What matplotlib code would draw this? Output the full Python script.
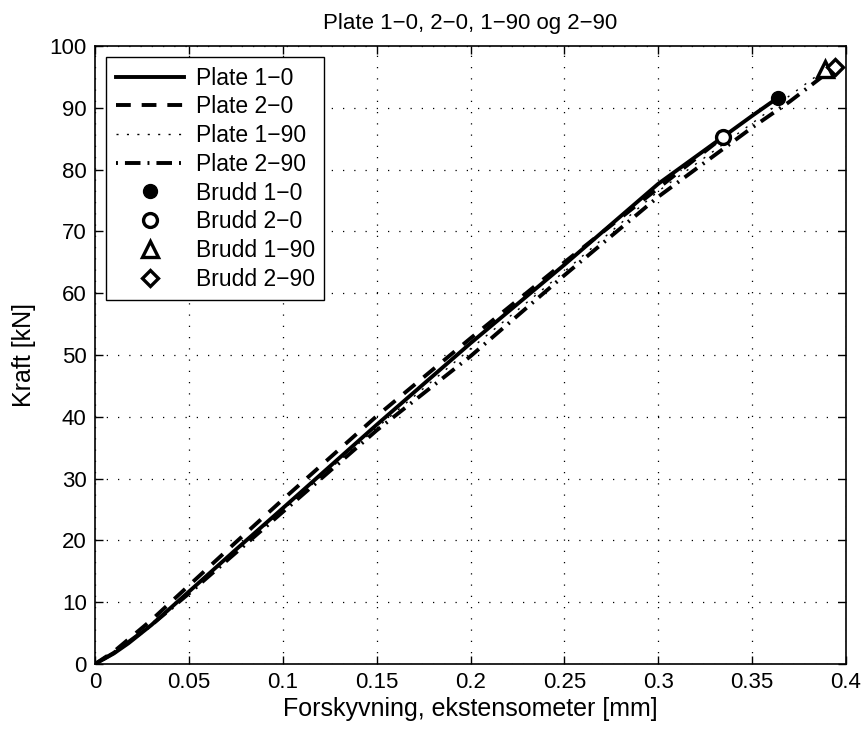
import numpy as np
import matplotlib
matplotlib.use('Agg')
import matplotlib.pyplot as plt

plt.rcParams['font.family'] = ['Liberation Sans', 'DejaVu Sans']

# data
x_10 = [0, 0.01, 0.0178, 0.03, 0.05, 0.075, 0.1, 0.15, 0.2, 0.25, 0.3, 0.35, 0.3636]
y_10 = [0, 1.7, 3.35, 6.3, 11.7, 18.5, 25.2, 38.7, 51.9, 64.6, 77.7, 88.7, 91.6]

x_20 = [0, 0.01, 0.03, 0.05, 0.075, 0.1, 0.15, 0.2, 0.25, 0.3, 0.3343]
y_20 = [0, 2.0, 7.1, 12.7, 19.7, 26.6, 40.1, 52.7, 65.0, 77.0, 85.2]

x_190 = [0, 0.01, 0.03, 0.05, 0.075, 0.1, 0.15, 0.2, 0.25, 0.3, 0.35, 0.389]
y_190 = [0, 1.8, 6.4, 11.6, 18.2, 24.9, 38.2, 51.0, 63.5, 76.5, 87.5, 96.2]

x_290 = [0, 0.01, 0.03, 0.05, 0.075, 0.1, 0.15, 0.2, 0.25, 0.3, 0.35, 0.37, 0.3943]
y_290 = [0, 1.8, 6.3, 11.4, 18.0, 24.6, 37.8, 49.8, 62.9, 75.6, 86.8, 91.0, 96.65]

brudd_x = [0.3636, 0.3343, 0.389, 0.3943]
brudd_y = [91.6, 85.2, 96.2, 96.65]

fig = plt.figure(figsize=(8.67, 7.38), dpi=100)
ax = fig.add_axes([0.1096, 0.1003, 0.8662, 0.8374])

lw = 2.8
ax.plot(x_10, y_10, 'k-', lw=lw, label='Plate 1\u22120')
ax.plot(x_20, y_20, 'k--', lw=lw, dashes=(3.8, 2.8), label='Plate 2\u22120')
ax.plot(x_190, y_190, 'k:', lw=1.0, dashes=(1.5, 6), label='Plate 1\u221290')
ax.plot(x_290, y_290, 'k-.', lw=lw, dashes=(0.5, 1.8, 4, 1.8), label='Plate 2\u221290')

ms = 10
ax.plot(brudd_x[0], brudd_y[0], 'ko', ms=ms, ls='none', label='Brudd 1\u22120')
ax.plot(brudd_x[1], brudd_y[1], 'o', ms=ms, mfc='white', mec='k', mew=2.4, ls='none', label='Brudd 2\u22120')
ax.plot(brudd_x[2], brudd_y[2], '^', ms=ms + 1, mfc='white', mec='k', mew=2.4, ls='none', label='Brudd 1\u221290')
ax.plot(brudd_x[3], brudd_y[3], 'D', ms=ms - 2, mfc='white', mec='k', mew=2.4, ls='none', label='Brudd 2\u221290')

ax.set_xlim(0, 0.4)
ax.set_ylim(0, 100)
ax.set_xticks(np.arange(0, 0.41, 0.05))
ax.set_xticklabels(['0', '0.05', '0.1', '0.15', '0.2', '0.25', '0.3', '0.35', '0.4'])
ax.set_yticks(np.arange(0, 101, 10))
ax.tick_params(direction='in', top=True, right=True, labelsize=16, length=6, width=1, pad=6)
ax.grid(True, color='k', ls=(0, (1, 8)), lw=0.9)
for s in ax.spines.values():
    s.set_linewidth(1.2)

ax.set_xlabel('Forskyvning, ekstensometer [mm]', fontsize=18, labelpad=3)
ax.set_ylabel('Kraft [kN]', fontsize=18, labelpad=10)
ax.set_title('Plate 1\u22120, 2\u22120, 1\u221290 og 2\u221290', fontsize=16, pad=12)

leg = ax.legend(loc='upper left', fontsize=16.5, fancybox=False, edgecolor='k',
                framealpha=1, handlelength=3.0, borderaxespad=0.5, labelspacing=0.25,
                borderpad=0.4, handletextpad=0.5)
leg.get_frame().set_linewidth(1)

fig.savefig('out.png', dpi=100)
